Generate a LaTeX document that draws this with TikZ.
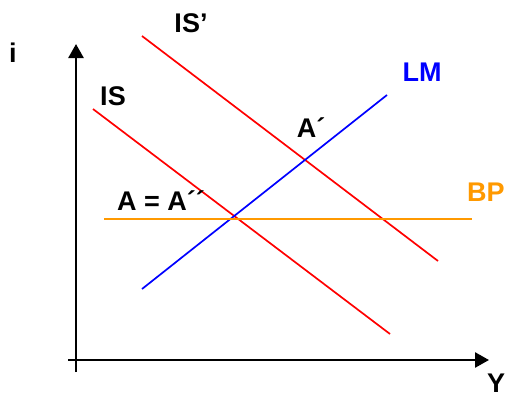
\documentclass[tikz,border=0pt]{standalone}
\usepackage{fontspec}
\setmainfont{Liberation Sans}
\usetikzlibrary{arrows.meta}
\definecolor{iscol}{rgb}{1,0,0}
\definecolor{lmcol}{rgb}{0,0,1}
\definecolor{bpcol}{rgb}{1,0.6,0}

\begin{document}
\begin{tikzpicture}[x=1pt, y=-1pt,
    every node/.style={font=\fontsize{27}{32}\selectfont\bfseries, inner sep=0pt},
    axis/.style={line width=2.6pt, -{Triangle[length=14pt,width=15pt]}},
    curve/.style={line width=1.7pt}]
  \useasboundingbox (0,0) rectangle (505,396);
  % axes
  \coordinate (xstart) at (68,360);
  \coordinate (xend) at (489,360);
  \coordinate (ystart) at (76,372);
  \coordinate (yend) at (76,44);
  \draw[axis] (xstart) -- (xend);
  \draw[axis] (ystart) -- (yend);
  \node (ilab) at (13,53) {i};
  \node[anchor=north west] (ylab) at (487,374) {Y};
  % curves
  \coordinate (isa) at (93,109);
  \coordinate (isb) at (390,334);
  \coordinate (isprimea) at (142,36);
  \coordinate (isprimeb) at (438,261);
  \coordinate (lma) at (142,289);
  \coordinate (lmb) at (387,95);
  \coordinate (bpa) at (104,219);
  \coordinate (bpb) at (472,219);
  \draw[curve,iscol] (isa) -- (isb);
  \draw[curve,iscol] (isprimea) -- (isprimeb);
  \draw[curve,lmcol] (lma) -- (lmb);
  \draw[curve,bpcol] (bpa) -- (bpb);
  % labels
  \node (islab) at (113,96) {IS};
  \node (isprimelab) at (191,23) {IS’};
  \node[text=lmcol] (lmlab) at (422,72) {LM};
  \node[text=bpcol,anchor=west] (bplab) at (467,192) {BP};
  \node (aprimelab) at (311,128) {A´};
  \node[anchor=west] (alab) at (117,201) {A = A´´};
\end{tikzpicture}
\end{document}
